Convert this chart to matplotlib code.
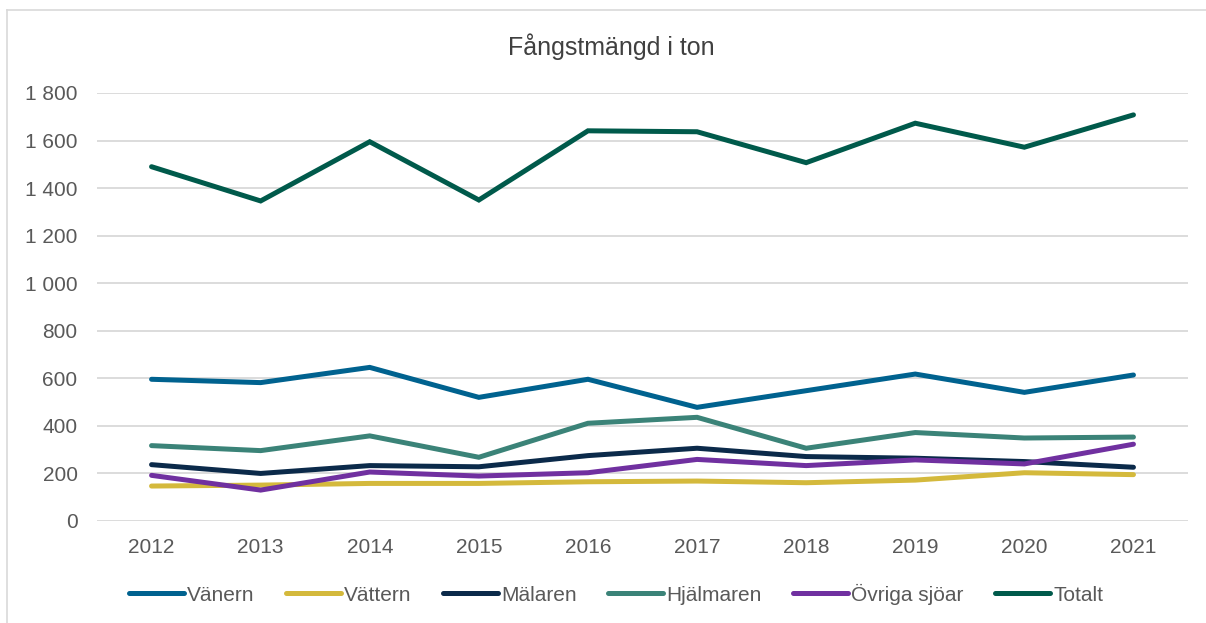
import matplotlib
matplotlib.use("Agg")
import matplotlib.pyplot as plt
from matplotlib.ticker import FuncFormatter, MultipleLocator
from matplotlib.lines import Line2D

plt.rcParams['font.family'] = ['Liberation Sans', 'DejaVu Sans']

years = [2012, 2013, 2014, 2015, 2016, 2017, 2018, 2019, 2020, 2021]
vanern = [596, 582, 646, 520, 596, 478, 548, 618, 541, 614]
vattern = [147, 151, 158, 158, 165, 168, 161, 172, 203, 195]
malaren = [237, 200, 233, 228, 275, 306, 271, 264, 250, 226]
hjalmaren = [317, 296, 358, 268, 411, 436, 306, 372, 349, 353]
ovriga = [192, 130, 206, 189, 203, 259, 233, 257, 240, 323]
totalt = [1490, 1346, 1595, 1350, 1641, 1637, 1507, 1673, 1572, 1708]

series = [
    ("Vänern", vanern, "#00628F"),
    ("Vättern", vattern, "#D4B93C"),
    ("Mälaren", malaren, "#0B2A4A"),
    ("Hjälmaren", hjalmaren, "#3B8378"),
    ("Övriga sjöar", ovriga, "#7030A0"),
    ("Totalt", totalt, "#005A4B"),
]

W, H = 1206, 623
fig = plt.figure(figsize=(W / 100, H / 100), dpi=100)
ax = fig.add_axes([97 / W, 1 - 521 / H, (1188 - 97) / W, (521 - 93) / H])

x = list(range(len(years)))
for name, vals, color in series:
    ax.plot(x, vals, color=color, linewidth=3.6, solid_capstyle='round',
            solid_joinstyle='miter', label=name)

ax.set_xlim(-0.5, len(years) - 0.5)
ax.set_ylim(0, 1800)
ax.yaxis.set_major_locator(MultipleLocator(200))
ax.yaxis.set_major_formatter(FuncFormatter(lambda v, p: f"{int(v):,}".replace(",", " ")))
ax.set_xticks(x)
ax.set_xticklabels([str(y) for y in years])
ax.grid(axis='y', color='#D9D9D9', linewidth=1.3)
ax.set_axisbelow(True)
for s in ax.spines.values():
    s.set_visible(False)
ax.tick_params(length=0, labelsize=15, colors='#595959', pad=12)
ax.tick_params(axis='y', pad=14)

fig.text(611 / W, 1 - 47 / H, "Fångstmängd i ton", ha='center', va='center',
         fontsize=18, color='#404040')

fig.legend(loc='center', bbox_to_anchor=(616 / W, 1 - 594 / H), ncol=6,
           frameon=False, fontsize=15, handlelength=2.65, handletextpad=0.15,
           columnspacing=1.5, labelcolor='#595959')

# chart frame (top and left edges only visible)
fig.add_artist(Line2D([7 / W, 1], [1 - 9.5 / H, 1 - 9.5 / H], transform=fig.transFigure,
                      color='#D9D9D9', linewidth=1.2))
fig.add_artist(Line2D([7 / W, 7 / W], [0, 1 - 9.5 / H], transform=fig.transFigure,
                      color='#D9D9D9', linewidth=1.2))

fig.savefig("out.png", dpi=100)
